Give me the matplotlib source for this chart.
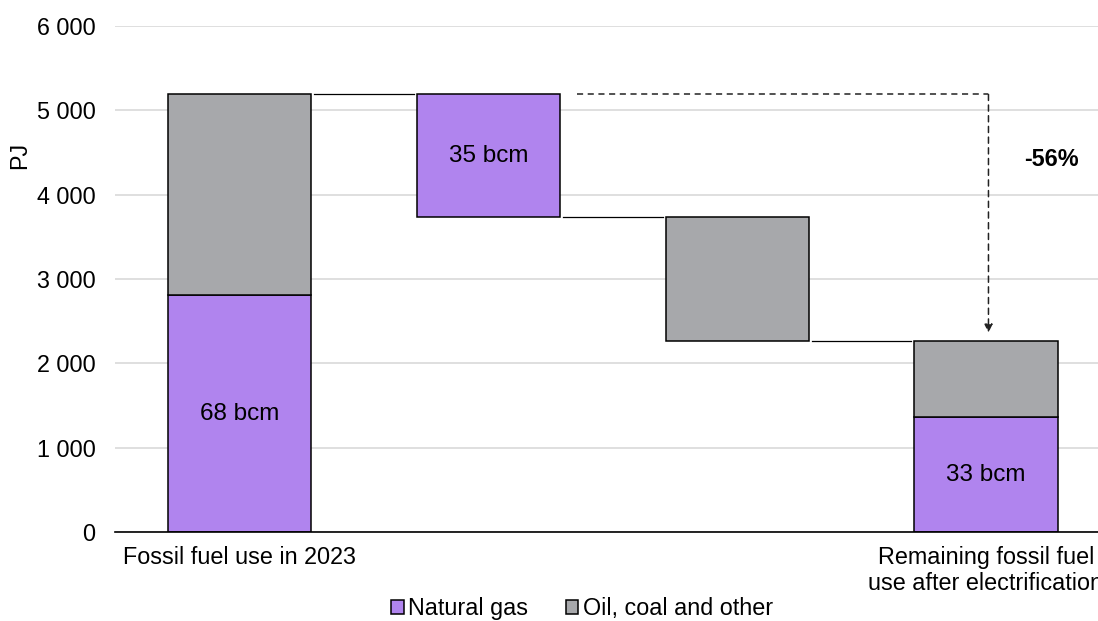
import matplotlib
matplotlib.use("Agg")
import matplotlib.pyplot as plt

plt.rcParams['font.family'] = ['Liberation Sans', 'DejaVu Sans']

categories = ["Fossil fuel use in 2023", "", "", "Remaining fossil fuel\nuse after electrification"]
start_gas = 2810
start_other = 2380
gas_reduction = 1455
other_reduction = 1470
end_gas = 1360
end_other = 905
gas_labels = ["68 bcm", "35 bcm", "33 bcm"]
change_label = "-56%"
yticks = [0, 1000, 2000, 3000, 4000, 5000, 6000]
ytick_labels = ["0", "1 000", "2 000", "3 000", "4 000", "5 000", "6 000"]

purple = "#B084EE"
grey = "#A7A8AB"

fig = plt.figure(figsize=(10.98, 6.21), dpi=100)
ax = fig.add_axes([0.1047, 0.1433, 0.9066, 0.8148])

w = 0.575
x = [0, 1, 2, 3]
total_start = start_gas + start_other
after_gas = total_start - gas_reduction
after_other = after_gas - other_reduction

ax.bar(x[0], start_gas, w, color=purple, edgecolor="black", linewidth=1.1, zorder=3, label="Natural gas")
ax.bar(x[0], start_other, w, bottom=start_gas, color=grey, edgecolor="black", linewidth=1.1, zorder=3, label="Oil, coal and other")
ax.bar(x[1], gas_reduction, w, bottom=after_gas, color=purple, edgecolor="black", linewidth=1.1, zorder=3)
ax.bar(x[2], other_reduction, w, bottom=after_other, color=grey, edgecolor="black", linewidth=1.1, zorder=3)
ax.bar(x[3], end_gas, w, color=purple, edgecolor="black", linewidth=1.1, zorder=3)
ax.bar(x[3], end_other, w, bottom=end_gas, color=grey, edgecolor="black", linewidth=1.1, zorder=3)

# connectors
gap = 0.012
for i, lvl in [(0, total_start), (1, after_gas), (2, after_other)]:
    ax.plot([x[i] + w / 2 + gap, x[i + 1] - w / 2 - gap], [lvl, lvl], color="black", lw=0.9, zorder=2)

# labels
fs = 16.8
bfs = 17.5
ax.text(x[0], start_gas / 2, gas_labels[0], ha="center", va="center", fontsize=bfs, zorder=4)
ax.text(x[1], after_gas + gas_reduction / 2, gas_labels[1], ha="center", va="center", fontsize=bfs, zorder=4)
ax.text(x[3], end_gas / 2, gas_labels[2], ha="center", va="center", fontsize=bfs, zorder=4)

# dashed arrow
xa = x[3] + 0.01
ax.plot([x[1] + w / 2 + 0.07, xa], [total_start, total_start], color="#222222", lw=1.1, ls=(0, (4, 3)), zorder=2)
ax.annotate("", xy=(xa, end_gas + end_other + 100), xytext=(xa, total_start),
            arrowprops=dict(arrowstyle="-|>", color="#222222", lw=1.1, ls=(0, (4, 3)), mutation_scale=12, shrinkA=0, shrinkB=0),
            zorder=2)
ax.text(x[3] + 0.265, 4420, change_label, ha="center", va="center", fontsize=fs, fontweight="bold")

ax.set_xlim(-0.5, 3.5)
ax.set_ylim(0, 6000)
ax.set_yticks(yticks)
ax.set_yticklabels(ytick_labels, fontsize=fs)
ax.set_xticks(x)
ax.set_xticklabels(categories, fontsize=fs, linespacing=1.2)
ax.tick_params(axis="both", length=0)
ax.tick_params(axis="y", pad=14)
ax.tick_params(axis="x", pad=10)
ax.grid(axis="y", color="#D9D9D9", lw=1.2, zorder=0)
for s in ["top", "right", "left"]:
    ax.spines[s].set_visible(False)
ax.spines["bottom"].set_color("black")
ax.spines["bottom"].set_linewidth(1.2)
ax.spines["bottom"].set_zorder(5)

fig.text(0.018, 0.75, "PJ", rotation=90, ha="center", va="center", fontsize=fs)

handles, labels = ax.get_legend_handles_labels()
fig.legend(handles, labels, loc="center", bbox_to_anchor=(0.53, 0.02), ncol=2, frameon=False,
           fontsize=fs, handlelength=0.55, handleheight=0.55, handletextpad=0.2, columnspacing=1.6,
           borderpad=0.1)

fig.savefig("out.png", dpi=100)
